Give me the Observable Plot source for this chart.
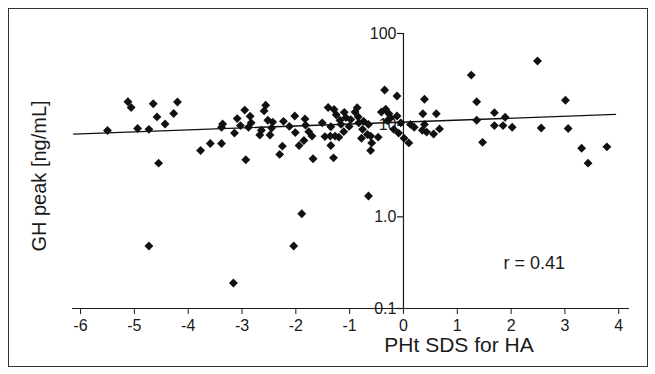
<!DOCTYPE html>
<html><head><meta charset="utf-8">
<script src="https://cdn.jsdelivr.net/npm/d3@7"></script>
<script src="https://cdn.jsdelivr.net/npm/@observablehq/plot@0.6"></script>
<style>
body{margin:0;background:#fff;}
#wrap{position:relative;width:655px;height:374px;}
#frame{position:absolute;left:8px;top:8px;width:640px;height:359px;border:1px solid #333;box-sizing:border-box;pointer-events:none;}
#chart{position:absolute;left:0;top:0;}
</style></head><body>
<div id="wrap"><div id="chart"></div><div id="frame"></div></div>
<script>
const phtSds = [
  -5.50,-5.12,-5.06,-4.65,-4.94,-4.73,-4.58,-4.43,-4.27,-4.20,-4.55,-4.73,
  -3.77,-3.59,-3.38,-3.36,-3.38,-3.09,-2.95,-2.85,-2.83,-3.03,-3.14,-2.88,-2.93,-3.16,
  -2.56,-2.59,-2.52,-2.43,-2.64,-2.67,-2.48,-2.45,-2.23,-2.25,-2.30,-2.12,-2.02,-2.01,-1.94,
  -1.83,-1.82,-1.85,-1.76,-1.70,-1.68,-2.04,-1.89,
  -1.51,-1.40,-1.29,-1.35,-1.46,-1.36,-1.27,-1.35,-1.30,-1.25,-1.18,-1.10,-1.07,-1.16,-1.11,-1.20,-1.01,
  -0.98,-0.90,-0.86,-0.84,-0.83,-0.74,-0.65,-0.76,-0.67,-0.78,-0.61,-0.47,-0.59,-0.61,
  -0.35,-0.12,-0.41,-0.33,-0.27,-0.24,-0.12,-0.18,-0.09,0.01,0.10,-0.65,-0.30,-0.05,
  0.39,0.36,0.61,0.13,0.20,0.39,0.35,0.43,0.56,0.67,
  1.26,1.36,1.36,1.47,1.69,1.69,1.85,1.89,2.02,
  2.49,3.01,2.56,3.06,3.31,3.78,3.43
];
const ghPeak = [
  8.75,18.0,15.6,17.1,9.2,9.0,12.3,10.3,13.4,17.9,3.85,0.48,
  5.3,6.3,6.3,10.3,9.5,11.8,14.6,12.5,10.6,9.9,8.2,9.5,4.2,0.19,
  16.5,14.3,11.3,10.8,8.8,7.8,7.8,9.3,11.0,5.9,4.8,9.7,12.6,8.3,6.0,
  11.7,10.0,6.8,8.5,7.6,4.3,0.48,1.08,
  10.6,15.6,14.8,9.6,7.5,7.6,7.6,6.0,4.4,13.0,11.3,13.8,12.1,10.2,8.5,7.4,9.7,
  11.5,13.9,15.5,12.3,10.6,11.0,10.2,9.0,7.9,7.2,7.6,7.4,6.4,5.3,
  24.2,20.8,13.9,14.9,13.3,12.0,12.6,9.0,8.2,7.2,6.4,1.69,11.2,10.6,
  19.2,13.3,13.3,10.2,9.5,10.2,8.8,8.4,8.0,9.1,
  35.2,18.0,11.3,6.5,13.7,9.9,9.9,12.2,9.5,
  50.1,18.7,9.3,9.2,5.6,5.8,3.85
];
const fitX = [-6.13, 3.94];
const fitY = [8.0, 13.1];
const xTicks = [-6,-5,-4,-3,-2,-1,0,1,2,3,4];
const yTicks = [0.1, 1, 10, 100];
const yTickLabels = ["0.1", "1.0", "10", "100"];
const xLabel = "PHt SDS for HA";
const yLabel = "GH peak [ng/mL]";
const annotation = "r = 0.41";

const points = phtSds.map((x, i) => ({x, y: ghPeak[i]}));
const fit = fitX.map((x, i) => ({x, y: fitY[i]}));
const ink = "#1a1a1a";

const chart = Plot.plot({
  width: 655, height: 374,
  marginTop: 33, marginBottom: 66, marginLeft: 72, marginRight: 26,
  style: {fontFamily: "'Liberation Sans', Arial, sans-serif", fontSize: "16px", color: ink, background: "transparent"},
  x: {domain: [-6.15, 4.2], axis: null},
  y: {type: "log", domain: [0.1, 100], axis: null},
  marks: [
    Plot.axisX({ticks: xTicks, tickFormat: d => String(d), tickSize: 6, tickPadding: 5, label: null, fontSize: 16, stroke: ink}),
    Plot.ruleY([0.1], {stroke: ink, strokeWidth: 1.2}),
    Plot.ruleX([0], {y1: 0.1, y2: 100, stroke: ink, strokeWidth: 1.2}),
    Plot.ruleY(yTicks, {x1: 0, x2: 0, insetLeft: -6, stroke: ink, strokeWidth: 1.2}),
    Plot.text(yTicks, {x: 0, y: d => d, text: (d, i) => yTickLabels[i], textAnchor: "end", dx: -7, fontSize: 16, fill: ink}),
    Plot.text([xLabel], {frameAnchor: "bottom", textAnchor: "middle", lineAnchor: "middle", dx: 108, dy: 37, fontSize: 21, fill: ink}),
    Plot.text([yLabel], {frameAnchor: "left", textAnchor: "middle", lineAnchor: "middle", rotate: -90, dx: -33, dy: 5, fontSize: 20, fill: ink}),
    Plot.dot(points, {x: "x", y: "y", symbol: "diamond2", r: 4, fill: "#111", stroke: "none"}),
    Plot.line(fit, {x: "x", y: "y", stroke: "#111", strokeWidth: 1.3}),
    Plot.text([annotation], {frameAnchor: "bottom-right", textAnchor: "start", lineAnchor: "middle", dx: -126, dy: -45, fontSize: 18, fill: ink})
  ]
});
document.getElementById("chart").appendChild(chart);
</script>
</body></html>
